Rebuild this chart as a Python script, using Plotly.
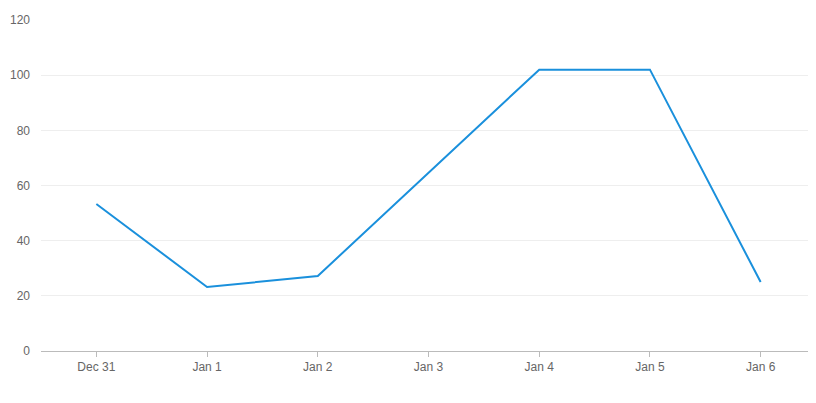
import plotly.graph_objects as go

categories = ["Dec 31", "Jan 1", "Jan 2", "Jan 3", "Jan 4", "Jan 5", "Jan 6"]
values = [53.3, 23.2, 27.2, 64.5, 102, 102, 25]
y_ticks = [0, 20, 40, 60, 80, 100, 120]

fig = go.Figure()
fig.add_trace(go.Scatter(
    x=categories, y=values, mode="lines",
    line=dict(color="#1a90dc", width=2),
    hoverinfo="x+y",
))

fig.update_layout(
    width=808, height=380,
    margin=dict(l=33, r=0, t=12, b=37),
    paper_bgcolor="white", plot_bgcolor="white",
    showlegend=False,
    font=dict(family="Liberation Sans, Arial, sans-serif", size=12, color="#666666"),
    xaxis=dict(
        type="category", range=[-0.5, 6.5],
        showgrid=False, showline=True, linecolor="#bbbbbb", linewidth=1,
        ticks="outside", ticklen=5, tickcolor="#bbbbbb",
        tickfont=dict(size=12, color="#666666"),
        fixedrange=True,
    ),
    yaxis=dict(
        range=[0, 120], tickvals=y_ticks,
        showgrid=True, gridcolor="#eeeeee", gridwidth=1,
        zeroline=False, showline=False,
        ticks="", ticklabelstandoff=10,
        tickfont=dict(size=12, color="#666666"),
        fixedrange=True,
    ),
)

fig.write_html("out.html")
